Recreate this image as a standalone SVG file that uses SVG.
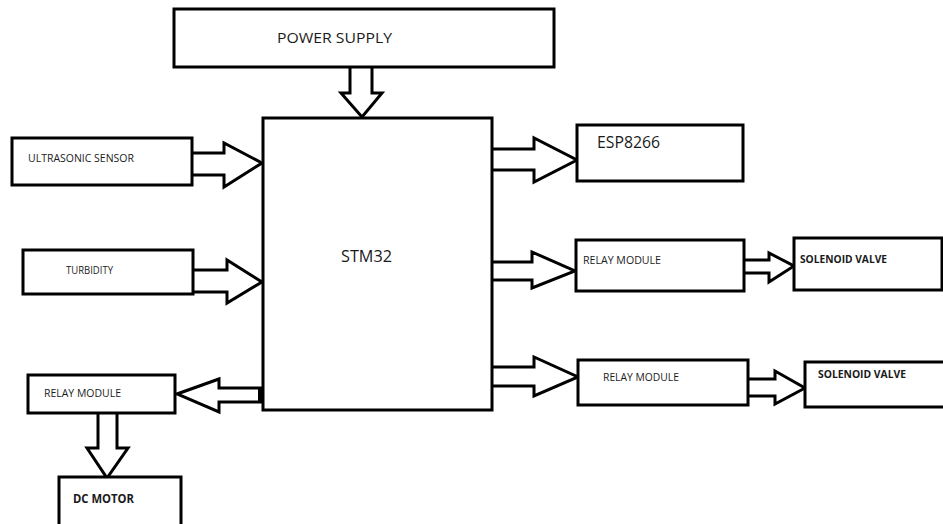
<svg xmlns="http://www.w3.org/2000/svg" width="943" height="524" viewBox="0 0 943 524">
<style>
.box{fill:#fff;stroke:#000;stroke-width:3}
.arr{fill:#fff;stroke:#000;stroke-width:3;stroke-linejoin:miter}
.t{font-family:"Open Sans","Liberation Sans",sans-serif;fill:#1a1a1a}
.b{font-weight:bold}
</style>
<rect width="943" height="524" fill="#fff"/>
<g id="connectors">
<path class="arr" d="M350,67 V93 H341 L362,117 L382,93 H372 V67"/>
<path class="arr" d="M192,153 H224 V143 L262,163 L224,187 V175 H192"/>
<path class="arr" d="M193,270 H227 V260 L262,282 L227,303 V292 H193"/>
<path class="arr" d="M262,388 H219 V379 L177,394 L219,412 V402 H262"/>
<line x1="260" y1="387" x2="260" y2="403" stroke="#000" stroke-width="4"/>
<path class="arr" d="M98,413 V448 H87 L107,478 L128,448 H117 V413"/>
<path class="arr" d="M492,149 H534 V138 L577,160 L534,182 V170 H492"/>
<path class="arr" d="M492,262 H532 V252 L575,271 L532,288 V280 H492"/>
<path class="arr" d="M492,367 H534 V357 L578,377 L534,396 V386 H492"/>
<path class="arr" d="M744,260 H769 V253 L794,266 L769,282 V273 H744"/>
<path class="arr" d="M748,379 H775 V371 L805,388 L775,404 V396 H748"/>
</g>
<g id="power">
<rect class="box" x="174" y="9" width="380" height="58"/>
<text class="t" x="277" y="43" font-size="15" textLength="115" lengthAdjust="spacingAndGlyphs">POWER SUPPLY</text>
</g>
<g id="stm32">
<rect class="box" x="263" y="118" width="229" height="292"/>
<text class="t" x="341" y="262" font-size="17" textLength="51" lengthAdjust="spacingAndGlyphs">STM32</text>
</g>
<g id="ultrasonic">
<rect class="box" x="12" y="138" width="180" height="47"/>
<text class="t" x="28" y="162" font-size="11" textLength="106" lengthAdjust="spacingAndGlyphs">ULTRASONIC SENSOR</text>
</g>
<g id="turbidity">
<rect class="box" x="23" y="250" width="170" height="44"/>
<text class="t" x="66" y="274" font-size="11" textLength="47" lengthAdjust="spacingAndGlyphs">TURBIDITY</text>
</g>
<g id="relay-left">
<rect class="box" x="28" y="375" width="147" height="38"/>
<text class="t" x="44" y="397" font-size="11" textLength="77" lengthAdjust="spacingAndGlyphs">RELAY MODULE</text>
</g>
<g id="dc-motor">
<rect class="box" x="59" y="477" width="122" height="52"/>
<text class="t b" x="73" y="503" font-size="11.5" textLength="61" lengthAdjust="spacingAndGlyphs">DC MOTOR</text>
</g>
<g id="esp8266">
<rect class="box" x="577" y="125" width="166" height="56"/>
<text class="t" x="597" y="148" font-size="16" textLength="63" lengthAdjust="spacingAndGlyphs">ESP8266</text>
</g>
<g id="relay1">
<rect class="box" x="576" y="240" width="168" height="51"/>
<text class="t" x="583" y="264" font-size="11" textLength="78" lengthAdjust="spacingAndGlyphs">RELAY MODULE</text>
</g>
<g id="solenoid1">
<rect class="box" x="794" y="238" width="148" height="52"/>
<text class="t b" x="800" y="263" font-size="10.5" textLength="87" lengthAdjust="spacingAndGlyphs">SOLENOID VALVE</text>
</g>
<g id="relay2">
<rect class="box" x="578" y="360" width="170" height="45"/>
<text class="t" x="603" y="381" font-size="11" textLength="76" lengthAdjust="spacingAndGlyphs">RELAY MODULE</text>
</g>
<g id="solenoid2">
<rect class="box" x="805" y="362" width="145" height="45"/>
<text class="t b" x="818" y="378" font-size="10.5" textLength="88" lengthAdjust="spacingAndGlyphs">SOLENOID VALVE</text>
</g>
</svg>
